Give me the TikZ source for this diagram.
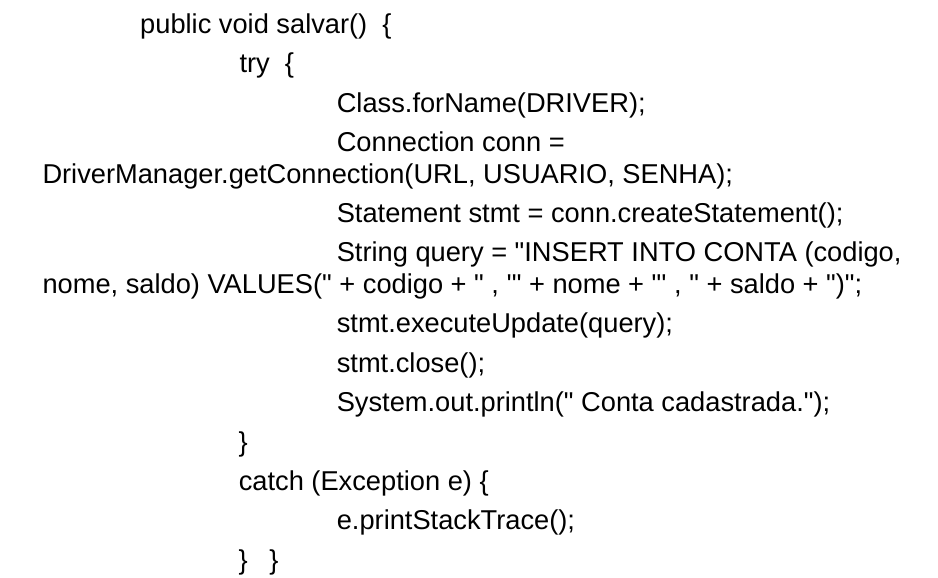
\documentclass[tikz,border=0pt]{standalone}
\font\codefnt="Liberation Sans" at 27.25pt
\tikzset{
  codeline/.style={anchor=base west, inner sep=0pt, outer sep=0pt, font=\codefnt, text=black}
}
\begin{document}
\begin{tikzpicture}[x=1pt,y=1pt]
\fill[white] (0,0) rectangle (938,-578);
\useasboundingbox (0,0) rectangle (938,-578);
\node[codeline] (l1)  at (140.2,-33.3)  {public void salvar()~~\{};
\node[codeline] (l2)  at (239.5,-72.7)  {try~~\{};
\node[codeline] (l3)  at (336.8,-112.1) {Class.forName(DRIVER);};
\node[codeline] (l4)  at (336.8,-151.5) {Connection conn =};
\node[codeline] (l5)  at (42.5,-183.3)  {DriverManager.getConnection(URL, USUARIO, SENHA);};
\node[codeline] (l6)  at (336.8,-222.5) {Statement stmt = conn.createStatement();};
\node[codeline] (l7)  at (336.8,-261.9) {String query = "INSERT INTO CONTA (codigo,};
\node[codeline] (l8)  at (42.5,-293.5)  {nome, saldo) VALUES(" + codigo + " , '" + nome + "' , " + saldo + ")";};
\node[codeline] (l9)  at (336.8,-332.9) {stmt.executeUpdate(query);};
\node[codeline] (l10) at (336.8,-372.3) {stmt.close();};
\node[codeline] (l11) at (336.8,-411.7) {System.out.println(" Conta cadastrada.");};
\node[codeline] (l12) at (238.5,-451.1) {\}};
\node[codeline] (l13) at (238.8,-490.5) {catch (Exception e) \{};
\node[codeline] (l14) at (336.8,-529.9) {e.printStackTrace();};
\node[codeline] (l15) at (238.5,-569.3) {\}\hspace{21.9pt}\}};
\end{tikzpicture}
\end{document}
